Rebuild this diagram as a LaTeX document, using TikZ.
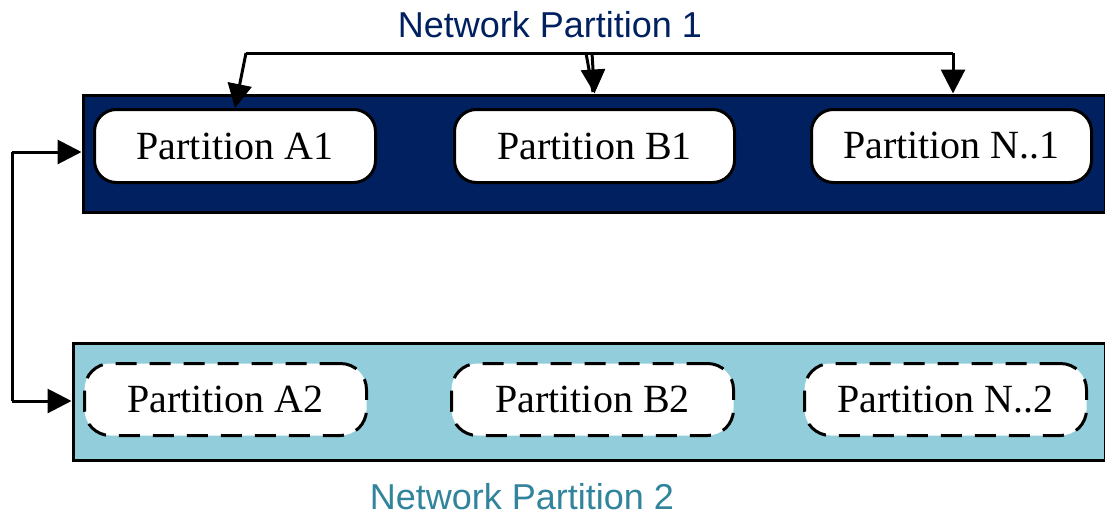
\documentclass[tikz,border=0pt]{standalone}
\usepackage{fontspec}
\setmainfont{Liberation Serif}
\newfontfamily\labelsans{Liberation Sans}
\usetikzlibrary{arrows.meta}
\definecolor{navy}{HTML}{002060}
\definecolor{paleblue}{HTML}{92CDDC}
\definecolor{tealtext}{HTML}{31849B}
\tikzset{
  band/.style={draw=black, line width=3pt, inner sep=0pt, anchor=north west},
  part/.style={draw=black, fill=white, line width=3pt, rounded corners=22pt,
    inner sep=0pt, minimum height=73pt, font=\fontsize{40}{48}\selectfont},
  partdash/.style={part, rounded corners=26pt, dash pattern=on 21pt off 13pt},
  conn/.style={line width=3pt, line join=miter},
  arr/.style={conn, -{Triangle[length=24pt, width=24pt]}},
  title/.style={font=\labelsans\fontsize{36}{40}\selectfont, inner sep=0pt}
}
\begin{document}
\begin{tikzpicture}[x=1pt, y=-1pt]
\useasboundingbox (0,0) rectangle (1105,517);

% network partition bands
\node[band, fill=navy, minimum width=1022pt, minimum height=117pt] (P1) at (81.5,93.5) {};
\node[band, fill=paleblue, minimum width=1032pt, minimum height=117pt] (P2) at (71.5,341.5) {};

% partitions of network partition 1
\node[part, minimum width=281pt] (A1) at (235,146) {Partition A1};
\node[part, minimum width=280pt] (B1) at (594.5,146) {Partition B1};
\node[part, minimum width=280pt] (N1) at (951.5,146) {Partition N..1};

% partitions of network partition 2
\node[partdash, minimum width=282pt, minimum height=72pt] (A2) at (225.5,399.5) {Partition A2};
\node[partdash, minimum width=282pt, minimum height=72pt] (B2) at (592.5,399.5) {Partition B2};
\node[partdash, minimum width=282pt, minimum height=72pt] (N2) at (945.5,399.5) {Partition N..2};

% titles
\node[title, text=navy] (T1) at (550,25) {Network Partition 1};
\node[title, text=tealtext] (T2) at (522,497) {Network Partition 2};

% links between the partitions of network partition 1
\coordinate (jL) at (246,53);
\coordinate (jM1) at (586,53);
\coordinate (jM2) at (592,53);
\coordinate (jR) at (953,53);
\draw[conn] (jL) -- (jR);
\draw[arr] (jL) -- (A1.north);
\draw[conn] (jM1) -- (593,92);
\draw[arr] (jM2) -- (B1.north |- P1.north);
\draw[arr] (jR) -- (jR |- P1.north);

% link between the two network partitions
\coordinate (lt) at (12,152);
\coordinate (lb) at (12,401);
\draw[conn] (lt) -- (lb);
\draw[arr] (lt) -- (P1.west |- lt);
\draw[arr] (lb) -- (P2.west |- lb);
\end{tikzpicture}
\end{document}
